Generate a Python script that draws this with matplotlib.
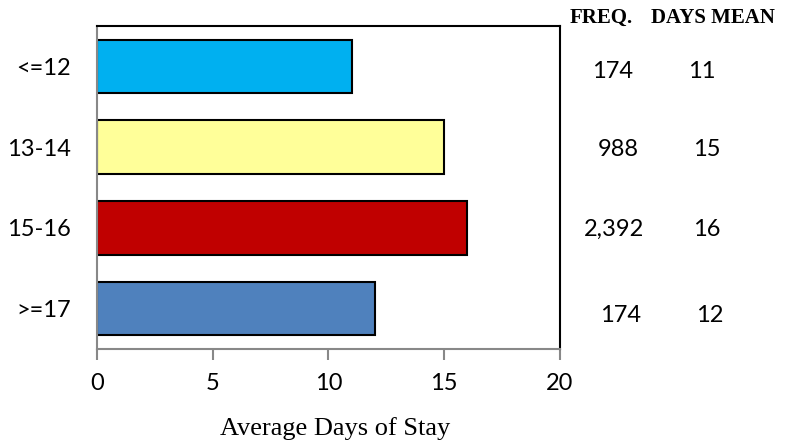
import matplotlib
matplotlib.use("Agg")
import matplotlib.pyplot as plt

# data
groups = ['<=12', '13-14', '15-16', '>=17']
days_mean = [11, 15, 16, 12]
freq = ['174', '988', '2,392', '174']
mean_labels = ['11', '15', '16', '12']
bar_colors = ['#00B0F0', '#FFFF99', '#C00000', '#4F81BD']

# side table layout (pixels from top-left)
freq_x = [613, 618, 614, 621]
mean_x = [702, 707, 707, 710]
row_y = [72, 149, 229, 315]

sans = ['Lato', 'DejaVu Sans']
serif = ['Liberation Serif', 'DejaVu Serif']

W, H = 788, 442
fig = plt.figure(figsize=(W / 100, H / 100), dpi=100)
ax = fig.add_axes([97 / W, 1 - 349 / H, (560 - 97) / W, (349 - 26) / H])

ypos = list(range(len(groups)))
ax.barh(ypos, days_mean, height=0.66, color=bar_colors, edgecolor='black', linewidth=1.5)
ax.set_xlim(0, 20)
ax.set_ylim(len(groups) - 0.5, -0.5)
ax.set_xticks([0, 5, 10, 15, 20])
ax.set_yticks(ypos)
ax.set_yticklabels(groups, fontfamily=sans, fontsize=17)
for lbl in ax.get_xticklabels():
    lbl.set_fontfamily(sans)
    lbl.set_fontsize(17)
ax.tick_params(axis='y', length=0, pad=19)
ax.tick_params(axis='x', length=8, width=1.5, color='#888888', pad=9, direction='out')

for side in ['left', 'bottom']:
    ax.spines[side].set_color('#888888')
    ax.spines[side].set_linewidth(1.5)
for side in ['top', 'right']:
    ax.spines[side].set_color('black')
    ax.spines[side].set_linewidth(1.5)

fig.text(335 / W, 1 - 429 / H, 'Average Days of Stay', ha='center', va='center',
         fontfamily=serif, fontsize=19)

# side table
fig.text(601 / W, 1 - 18 / H, 'FREQ.', ha='center', va='center',
         fontfamily=serif, fontweight='bold', fontsize=15)
fig.text(713 / W, 1 - 18 / H, 'DAYS MEAN', ha='center', va='center',
         fontfamily=serif, fontweight='bold', fontsize=15)
for i in ypos:
    fig.text(freq_x[i] / W, 1 - row_y[i] / H, freq[i], ha='center', va='center',
             fontfamily=sans, fontsize=17)
    fig.text(mean_x[i] / W, 1 - row_y[i] / H, mean_labels[i], ha='center', va='center',
             fontfamily=sans, fontsize=17)

fig.savefig('out.png', dpi=100)
